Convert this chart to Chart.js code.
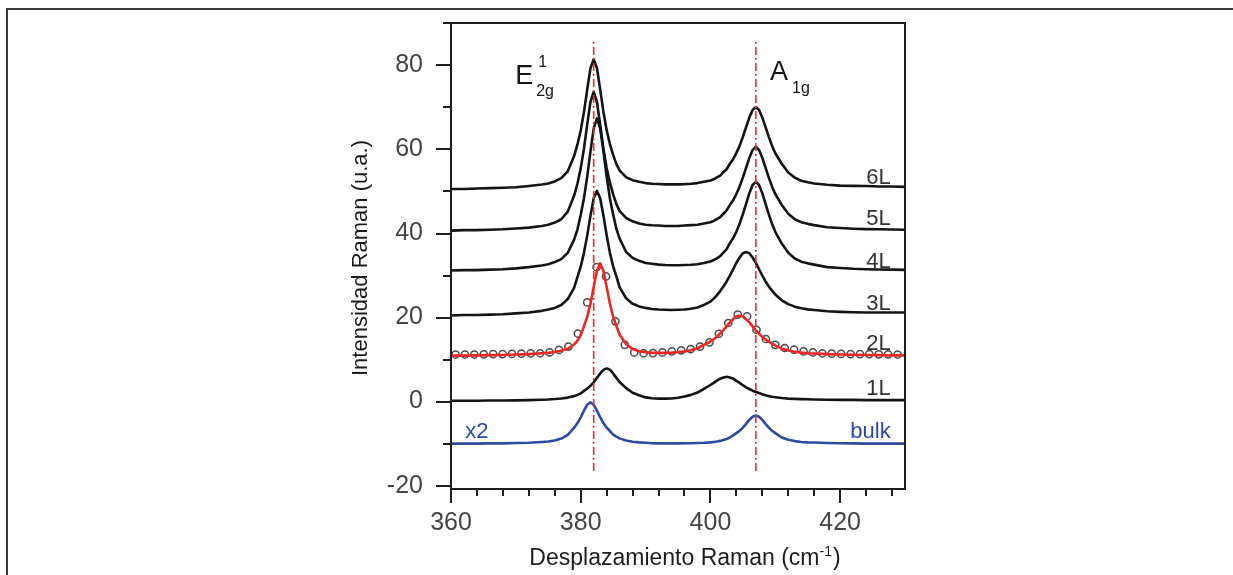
<!DOCTYPE html>
<html><head><meta charset="utf-8">
<script src="https://cdn.jsdelivr.net/npm/chart.js@4.4.1/dist/chart.umd.min.js"></script>
<style>
html,body{margin:0;padding:0;background:#fff;}
#wrap{position:relative;width:1233px;height:575px;overflow:hidden;}
#frame{position:absolute;left:6px;top:8px;right:-4px;bottom:-4px;border-top:2px solid #3a3a3a;border-left:2px solid #3a3a3a;}
canvas{position:absolute;left:0;top:0;}
</style></head><body>
<div id="wrap"><div id="frame"></div><canvas id="c" width="1233" height="575"></canvas></div>
<script>
// ---- data ----
const ramanShift = [360,362,364,366,368,370,372,374,375,376,377,378,379,379.5,380,380.5,381,381.5,382,382.5,383,383.5,384,384.5,385,385.5,386,387,388,389,390,391,392,393,394,395,396,397,398,399,400,400.5,401,401.5,402,402.5,403,403.5,404,404.5,405,405.5,406,406.5,407,407.5,408,408.5,409,409.5,410,411,412,413,414,415,416,418,420,422,424,426,428,430];

const int6L = [50.6,50.6,50.7,50.8,50.9,51.0,51.3,51.65,51.9,52.4,53.2,54.8,58.5,61.2,64.5,68.9,74.2,79.3,81.5,79.4,74.3,69.0,64.6,61.3,58.7,56.5,55.0,53.4,52.7,52.3,52.0,51.85,51.8,51.7,51.7,51.7,51.75,51.85,52.0,52.3,52.6,52.9,53.35,53.8,54.6,55.3,56.6,57.7,59.2,60.9,63.0,65.3,67.6,69.4,70.1,69.4,67.6,65.3,63.0,60.9,59.1,56.6,54.5,53.3,52.55,52.2,51.9,51.6,51.4,51.35,51.3,51.2,51.2,51.1];

const int5L = [40.7,40.8,40.8,40.9,41.0,41.2,41.4,41.8,42.1,42.6,43.4,45.2,49.1,51.9,55.5,60.2,65.9,71.3,73.7,71.3,65.9,60.2,55.6,52.1,49.3,47.0,45.35,43.7,42.9,42.4,42.1,41.95,41.9,41.8,41.8,41.8,41.9,42.0,42.1,42.4,42.7,43.0,43.45,43.9,44.7,45.5,46.8,47.9,49.4,51.2,53.3,55.65,58.0,59.9,60.6,59.9,58.0,55.65,53.3,51.15,49.4,46.8,44.7,43.4,42.7,42.3,42.0,41.5,41.3,41.15,41.05,41.0,40.95,40.9];

const int4L = [31.2,31.3,31.3,31.4,31.5,31.7,32.0,32.4,32.7,33.2,33.9,35.4,38.6,41.0,44.4,48.4,53.5,59.5,65.0,67.4,65.05,59.6,53.5,48.4,44.55,41.1,38.8,35.6,34.2,33.5,33.0,32.8,32.6,32.5,32.45,32.45,32.5,32.55,32.7,33.0,33.35,33.7,34.1,34.6,35.45,36.3,37.7,38.9,40.4,42.3,44.6,47.05,49.6,51.55,52.3,51.55,49.55,47.05,44.55,42.3,40.4,37.6,35.4,34.05,33.3,32.9,32.6,32.0,31.8,31.6,31.5,31.45,31.4,31.35];

const int3L = [20.5,20.6,20.6,20.7,20.8,21.0,21.2,21.6,21.9,22.3,23.0,24.4,27.1,29.7,32.1,35.4,39.5,44.2,48.4,50.15,48.4,44.3,39.6,35.4,32.2,29.8,27.2,24.6,23.3,22.65,22.3,22.05,21.9,21.85,21.8,21.85,21.9,22.1,22.4,23.0,23.8,24.5,25.3,26.3,27.4,28.6,30.0,31.5,33.0,34.3,35.3,35.6,35.3,34.3,33.0,31.5,30.0,28.6,27.4,26.4,25.5,24.1,23.2,22.6,22.2,21.95,21.8,21.5,21.35,21.25,21.2,21.2,21.2,21.2];

const int2Lfit = [10.95,10.95,11.0,11.05,11.1,11.2,11.3,11.5,11.6,11.8,12.1,12.55,13.6,14.5,15.8,17.9,20.15,23.3,27.25,31.15,32.9,31.15,27.3,23.35,20.2,18.0,15.9,13.7,12.5,12.0,11.75,11.6,11.6,11.6,11.65,11.75,11.95,12.2,12.7,13.5,14.3,14.85,15.45,16.2,17.0,17.9,18.85,19.65,20.25,20.45,20.25,19.65,18.85,17.9,16.95,16.15,15.4,14.8,14.25,13.8,13.4,12.6,12.15,11.85,11.65,11.5,11.45,11.3,11.2,11.15,11.1,11.05,11.0,11.0];

const int1L = [0.2,0.2,0.2,0.25,0.25,0.3,0.35,0.45,0.5,0.6,0.75,0.95,1.3,1.6,1.95,2.55,3.1,3.75,4.6,5.65,6.7,7.55,7.9,7.6,6.7,5.65,4.65,3.2,2.1,1.5,1.0,0.8,0.7,0.7,0.75,0.9,1.2,1.6,2.15,3.05,3.95,4.45,5.0,5.45,5.75,5.9,5.75,5.45,4.95,4.45,3.9,3.4,3.0,2.6,2.3,2.05,1.75,1.5,1.3,1.15,1.05,0.85,0.7,0.65,0.6,0.55,0.5,0.45,0.4,0.4,0.35,0.35,0.35,0.35];

const intBulk = [-10.0,-10.0,-10.0,-9.95,-9.95,-9.85,-9.8,-9.6,-9.5,-9.25,-8.8,-7.9,-6.2,-5.1,-3.75,-2.15,-0.75,-0.15,-0.75,-2.15,-3.7,-5.1,-6.2,-7.0,-7.85,-8.35,-8.75,-9.25,-9.55,-9.7,-9.8,-9.9,-9.95,-9.95,-9.95,-9.95,-9.9,-9.9,-9.85,-9.8,-9.7,-9.6,-9.5,-9.35,-9.15,-8.9,-8.55,-8.05,-7.5,-6.95,-6.2,-5.3,-4.35,-3.6,-3.3,-3.6,-4.35,-5.3,-6.2,-6.95,-7.5,-8.55,-9.1,-9.4,-9.6,-9.7,-9.75,-9.85,-9.9,-9.95,-10.0,-10.0,-10.0,-10.0];

const shift2Lpts = [360.7,362.15,363.6,365.05,366.5,367.95,369.4,370.85,372.3,373.75,375.2,376.65,378.1,379.55,381.0,382.45,383.9,385.35,386.8,388.25,389.7,391.15,392.6,394.05,395.5,396.95,398.4,399.85,401.3,402.75,404.2,405.65,407.1,408.55,410.0,411.45,412.9,414.35,415.8,417.25,418.7,420.15,421.6,423.05,424.5,425.95,427.4,428.85];
const int2Lpts = [11.2,11.2,11.2,11.25,11.3,11.3,11.35,11.4,11.5,11.5,11.7,12.3,13.1,16.2,23.6,32.0,29.8,19.1,13.5,11.7,11.5,11.55,11.7,11.95,12.2,12.5,13.1,14.1,16.15,18.7,20.7,20.3,17.1,14.9,13.5,12.75,12.35,11.95,11.7,11.5,11.4,11.35,11.3,11.3,11.3,11.25,11.25,11.2];

const modeShifts = [382, 407];          // E2g^1 and A1g positions (dash-dot guides)
const guideRange = [-16.5, 86];
const layerNames = ['6L','5L','4L','3L','2L','1L','bulk'];
const xTickValues = [360, 380, 400, 420];
const yTickValues = [-20, 0, 20, 40, 60, 80];
const xTitle = ['Desplazamiento Raman (cm', '-1', ')'];
const yTitle = 'Intensidad Raman (u.a.)';

// ---- chart ----
const FONT = "'Liberation Sans', Arial, Helvetica, sans-serif";
const pts = (xs, ys) => xs.map((x, i) => ({x: x, y: ys[i]}));
const BLACK = '#141414', RED = 'rgb(236,38,36)', BLUE = 'rgb(44,74,160)';

const lineDs = (ys, color, order) => ({
  data: pts(ramanShift, ys), borderColor: color, borderWidth: 2.6,
  pointRadius: 0, tension: 0, order: order, fill: false, borderJoinStyle: 'round'
});

const datasets = [
  lineDs(int6L, BLACK, 5), lineDs(int5L, BLACK, 5), lineDs(int4L, BLACK, 5),
  lineDs(int3L, BLACK, 5), lineDs(int1L, BLACK, 5), lineDs(intBulk, BLUE, 5),
  { data: pts(shift2Lpts, int2Lpts), showLine: false, pointRadius: 3.6, pointBorderWidth: 1.5,
    pointBorderColor: '#4a4a4a', pointBackgroundColor: 'rgba(255,255,255,0)', order: 4 },
  lineDs(int2Lfit, RED, 3)
];
modeShifts.forEach(m => datasets.push({
  data: [{x: m, y: guideRange[0]}, {x: m, y: guideRange[1]}],
  borderColor: 'rgb(232,45,45)', borderWidth: 1.6, borderDash: [8, 3, 2, 3],
  pointRadius: 0, order: 1
}));

const decor = {
  id: 'decor',
  afterDatasetsDraw(chart) {
    const {ctx, chartArea: a, scales: {x, y}} = chart;
    ctx.save();
    // plot frame
    ctx.strokeStyle = '#1e1e1e'; ctx.lineWidth = 2;
    ctx.strokeRect(a.left, a.top, a.right - a.left, a.bottom - a.top);
    // ticks
    ctx.beginPath();
    for (let i = 0; i < yTickValues.length; i++) {
      const py = Math.round(y.getPixelForValue(yTickValues[i]));
      ctx.moveTo(a.left - 15, py); ctx.lineTo(a.left, py);
      const mv = yTickValues[i] + 10;
      if (mv < y.max) { const pm = Math.round(y.getPixelForValue(mv)); ctx.moveTo(a.left - 8, pm); ctx.lineTo(a.left, pm); }
    }
    for (let i = 0; i < xTickValues.length; i++) {
      const px = Math.round(x.getPixelForValue(xTickValues[i]));
      ctx.moveTo(px, a.bottom); ctx.lineTo(px, a.bottom + 14);
      for (let k = 1; k < 5; k++) {
        const mv = xTickValues[i] + 4 * k;
        if (mv < x.max) { const pm = Math.round(x.getPixelForValue(mv)); ctx.moveTo(pm, a.bottom); ctx.lineTo(pm, a.bottom + 7); }
      }
    }
    ctx.stroke();

    // layer labels
    const labelBase = [51.9, 42.0, 31.8, 21.85, 12.35, 1.65, -8.6];
    ctx.font = '22px ' + FONT; ctx.textAlign = 'right'; ctx.textBaseline = 'alphabetic';
    layerNames.forEach((n, i) => {
      ctx.fillStyle = n === 'bulk' ? BLUE : '#333';
      ctx.fillText(n, x.getPixelForValue(427.8), y.getPixelForValue(labelBase[i]));
    });
    ctx.textAlign = 'left'; ctx.fillStyle = BLUE;
    ctx.fillText('x2', x.getPixelForValue(362.2), y.getPixelForValue(-8.55));

    // mode labels
    ctx.fillStyle = '#151515';
    ctx.font = '27px ' + FONT;
    let ex = x.getPixelForValue(369.9), ey = y.getPixelForValue(75.7);
    ctx.fillText('E', ex, ey);
    let ew = ctx.measureText('E').width;
    ctx.font = '16px ' + FONT;
    ctx.fillText('1', ex + ew + 5, ey - 17);
    ctx.fillText('2g', ex + ew + 3, ey + 12);
    ctx.font = '27px ' + FONT;
    let ax = x.getPixelForValue(409.2), ay = y.getPixelForValue(76.5);
    ctx.fillText('A', ax, ay);
    let aw = ctx.measureText('A').width;
    ctx.font = '16px ' + FONT;
    ctx.fillText('1g', ax + aw + 4, ay + 13);

    // x axis title with superscript
    ctx.fillStyle = '#1c1c1c';
    ctx.font = '23px ' + FONT;
    const w1 = ctx.measureText(xTitle[0]).width, w3 = ctx.measureText(xTitle[2]).width;
    ctx.font = '14px ' + FONT;
    const w2 = ctx.measureText(xTitle[1]).width;
    const cx = (a.left + a.right) / 2 + 7, by = a.bottom + 76;
    let sx = cx - (w1 + w2 + w3 + 1) / 2;
    ctx.font = '23px ' + FONT; ctx.fillText(xTitle[0], sx, by);
    ctx.font = '14px ' + FONT; ctx.fillText(xTitle[1], sx + w1, by - 9);
    ctx.font = '23px ' + FONT; ctx.fillText(xTitle[2], sx + w1 + w2 + 1, by);

    // y axis title
    ctx.translate(367, (a.top + a.bottom) / 2 + 2);
    ctx.rotate(-Math.PI / 2);
    ctx.textAlign = 'center';
    ctx.font = '22px ' + FONT;
    ctx.fillText(yTitle, 0, 0);
    ctx.restore();
  }
};

new Chart(document.getElementById('c'), {
  type: 'line',
  data: { datasets: datasets },
  plugins: [decor],
  options: {
    responsive: false, animation: false, devicePixelRatio: 1,
    layout: { padding: { left: 351, right: 328, top: 23, bottom: 20 } },
    plugins: { legend: { display: false }, tooltip: { enabled: false } },
    scales: {
      x: {
        type: 'linear', min: 360, max: 430,
        afterBuildTicks: s => { s.ticks = xTickValues.map(v => ({value: v})); },
        afterFit: s => { s.height = 66; s.paddingLeft = 0; s.paddingRight = 0; },
        grid: { display: false, drawTicks: false }, border: { display: false },
        ticks: { font: { family: FONT, size: 25 }, color: '#454545', padding: 19, maxRotation: 0, autoSkip: false }
      },
      y: {
        type: 'linear', min: -20.8, max: 90.1,
        afterBuildTicks: s => { s.ticks = yTickValues.map(v => ({value: v})); },
        afterFit: s => { s.width = 100; s.paddingTop = 0; s.paddingBottom = 0; },
        grid: { display: false, drawTicks: false }, border: { display: false },
        ticks: { font: { family: FONT, size: 25 }, color: '#454545', padding: 28, autoSkip: false }
      }
    }
  }
});
</script>
</body></html>
